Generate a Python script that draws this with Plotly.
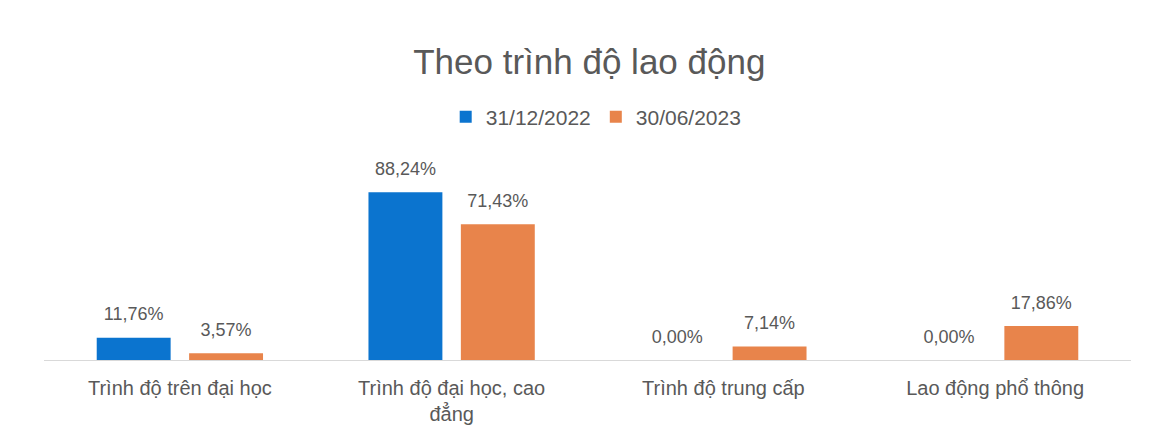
import plotly.graph_objects as go

categories = [
    "Trình độ trên đại học",
    "Trình độ đại học, cao<br>đẳng",
    "Trình độ trung cấp",
    "Lao động phổ thông",
]
series_names = ["31/12/2022", "30/06/2023"]
values_2022 = [11.76, 88.24, 0.00, 0.00]
values_2023 = [3.57, 71.43, 7.14, 17.86]
colors = ["#0b74cf", "#e8844b"]

FONT = "Liberation Sans, Arial, sans-serif"
GRAY = "#595959"
label_font = dict(family=FONT, size=18, color=GRAY)

fig = go.Figure()
for i, (name, vals, col) in enumerate(zip(series_names, [values_2022, values_2023], colors)):
    fig.add_trace(go.Bar(
        x=categories,
        y=vals,
        name=name,
        offsetgroup=str(i),
        marker=dict(color=col, line=dict(width=0)),
        hoverinfo="skip",
    ))

# value labels sit above each bar, aligned with the bar's slot
for i, (name, vals) in enumerate(zip(series_names, [values_2022, values_2023])):
    fig.add_trace(go.Scatter(
        x=categories,
        y=vals,
        mode="markers+text",
        offsetgroup=str(i),
        text=[f"{v:.2f}%".replace(".", ",") for v in vals],
        textposition="top center",
        textfont=label_font,
        marker=dict(size=19, opacity=0),
        showlegend=False,
        hoverinfo="skip",
        cliponaxis=False,
    ))

fig.update_layout(
    width=1151,
    height=439,
    paper_bgcolor="white",
    plot_bgcolor="white",
    separators=",.",
    barmode="group",
    bargap=0.32,
    bargroupgap=0.2,
    scattermode="group",
    scattergap=0.32,
    margin=dict(l=44, r=20, t=170, b=79),
    title=dict(
        text="Theo trình độ lao động",
        x=0.512,
        xanchor="center",
        y=1 - 62 / 439,
        yanchor="middle",
        font=dict(family=FONT, size=35, color=GRAY),
    ),
    legend=dict(
        orientation="h",
        x=0.508,
        xanchor="center",
        y=1.0 + (170 - 117) / 190,
        yanchor="middle",
        font=dict(family=FONT, size=21, color=GRAY),
        itemwidth=30,
        traceorder="normal",
        bgcolor="rgba(0,0,0,0)",
    ),
    showlegend=True,
)

fig.update_xaxes(
    showline=True,
    linecolor="#d9d9d9",
    linewidth=1,
    ticks="",
    showgrid=False,
    ticklabelstandoff=10,
    tickfont=dict(family=FONT, size=20, color=GRAY),
)
fig.update_yaxes(
    range=[0, 100],
    visible=False,
    showgrid=False,
    zeroline=False,
)

fig.write_html("out.html")
